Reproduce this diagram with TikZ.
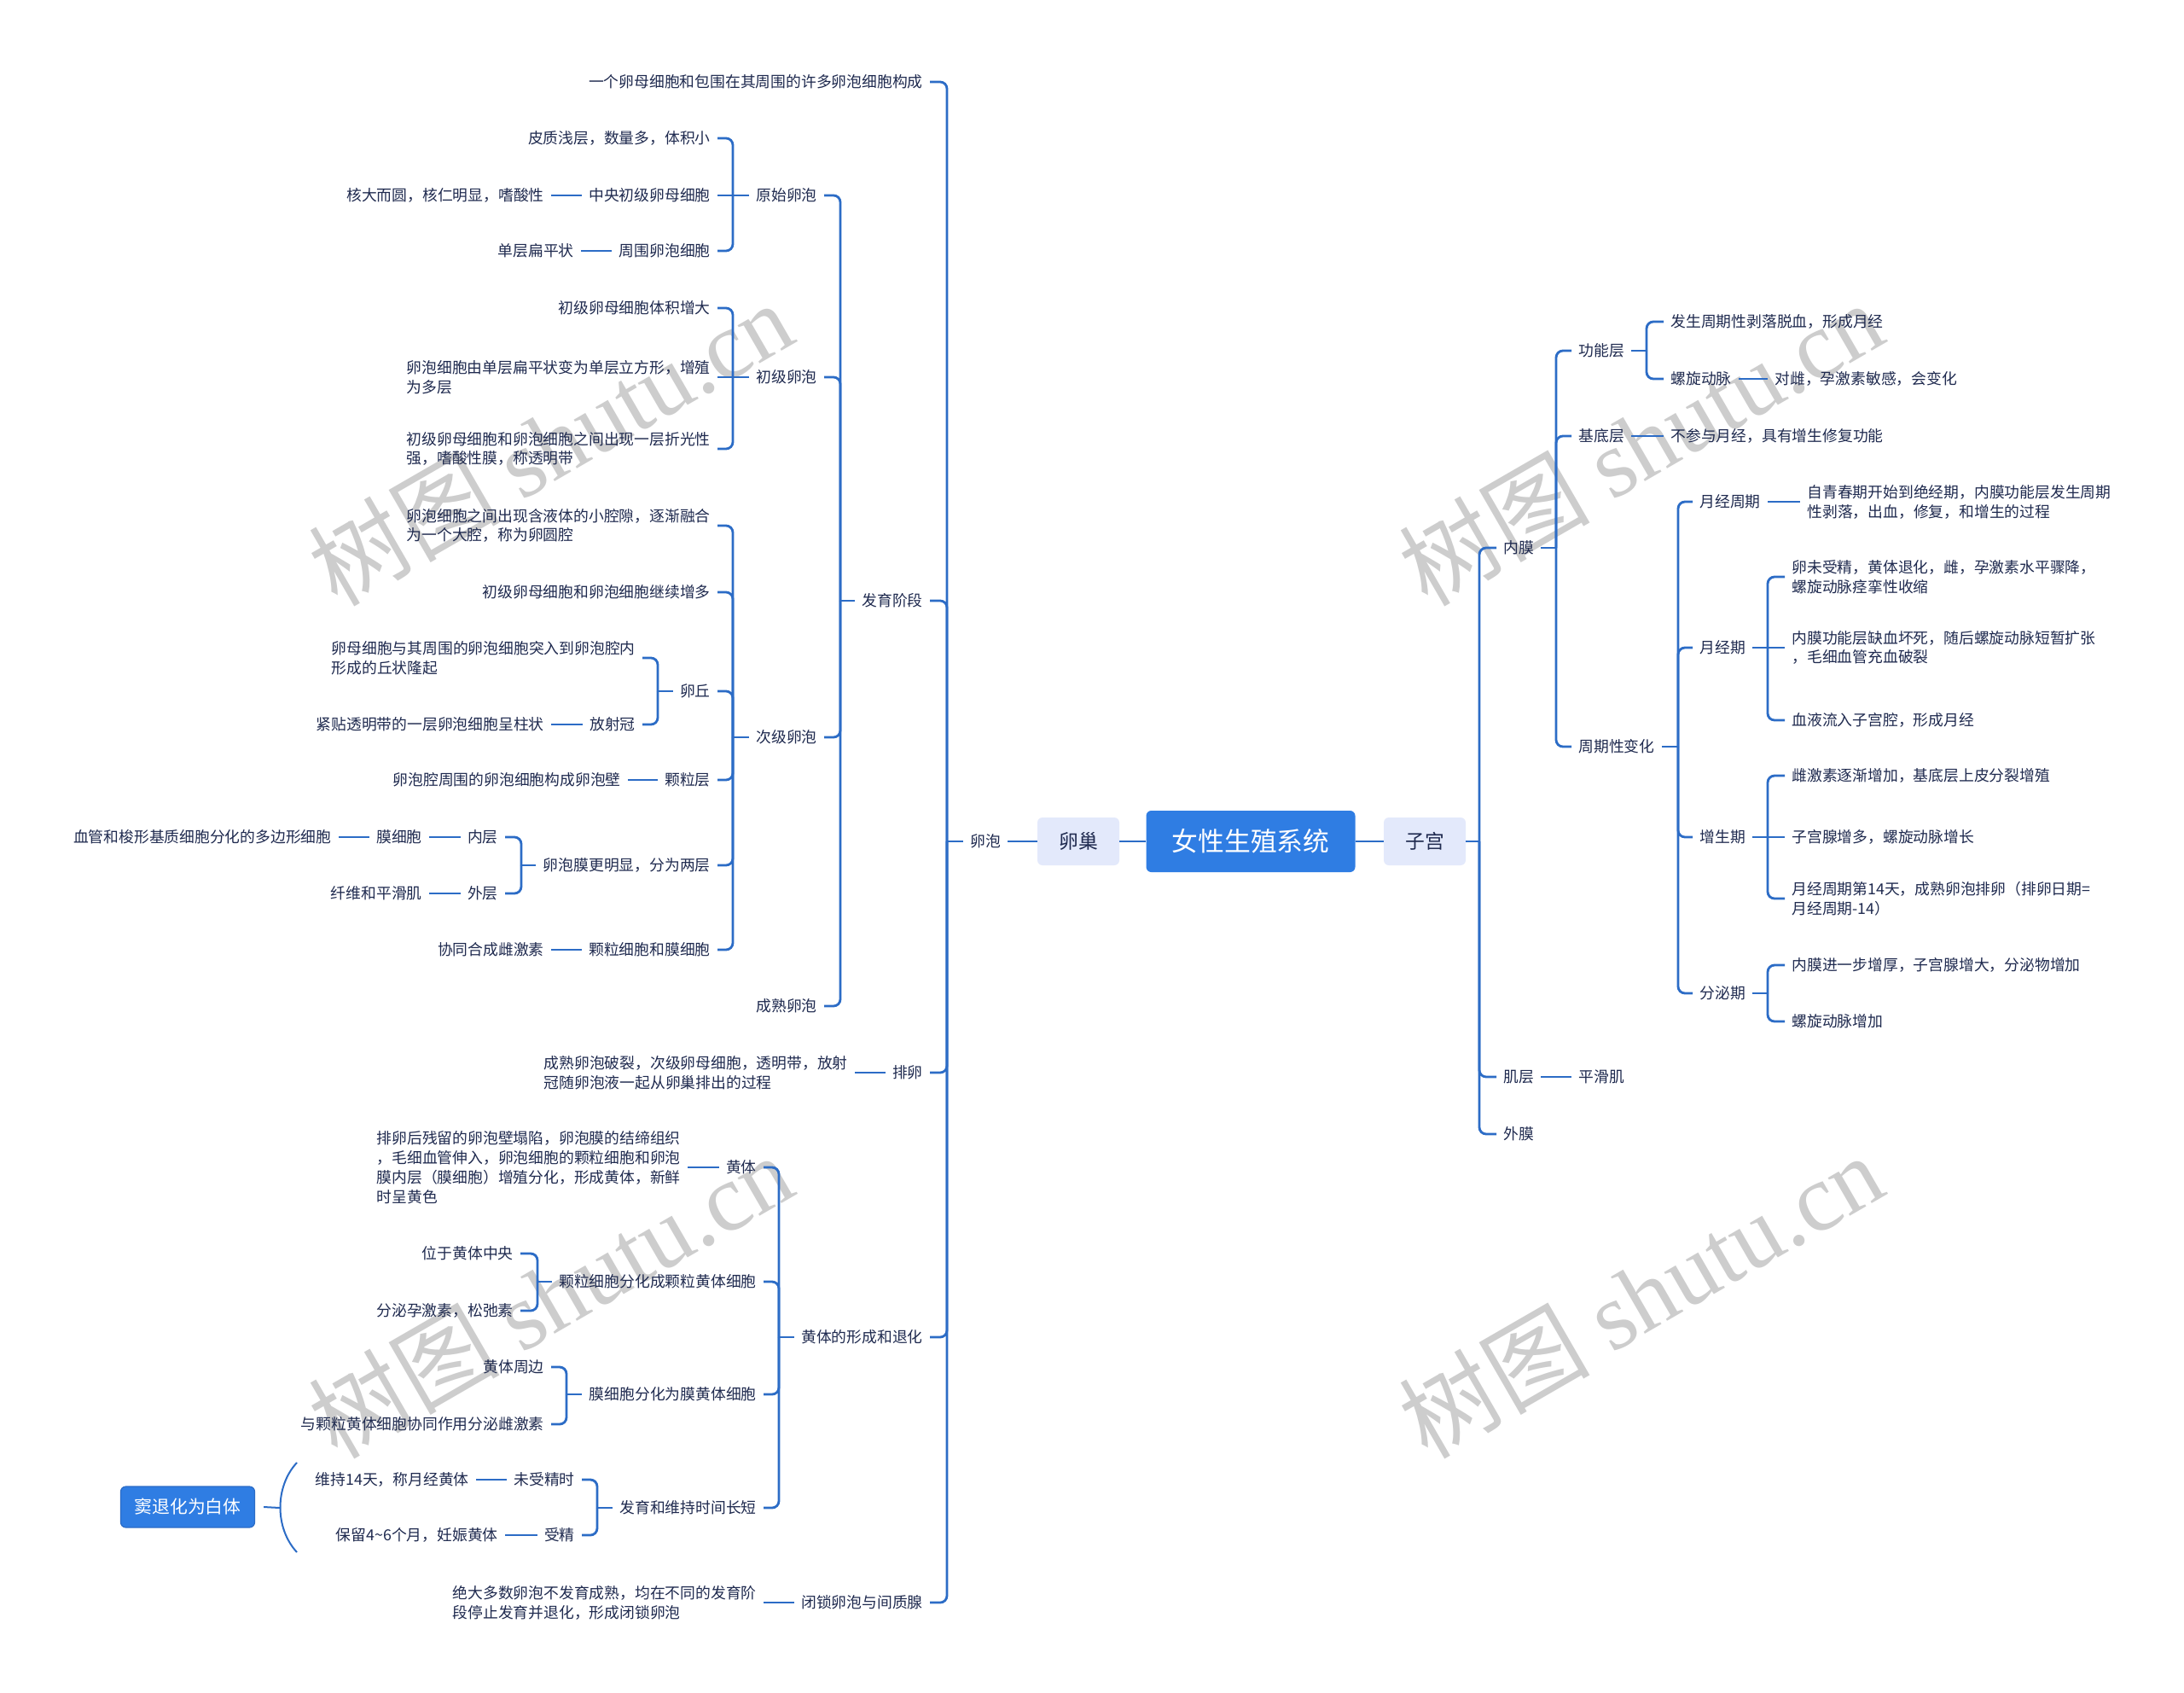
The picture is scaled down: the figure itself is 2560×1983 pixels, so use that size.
\documentclass[tikz,border=0pt]{standalone}
\usepackage{fontspec}
\setmainfont{Noto Sans CJK SC}
\newfontfamily\wmfont{Liberation Serif}
\definecolor{txt}{HTML}{1F2A4F}
\definecolor{lc}{HTML}{2C6CC6}
\definecolor{rootc}{HTML}{2F7DE3}
\definecolor{subc}{HTML}{E3E9FB}
\definecolor{wmc}{HTML}{CDCDCD}
\newcommand\brL[3]{%
  \draw[conn] (#1.west) -- (#2,0 |- #1.west);
  \foreach \nn in {#3}{\draw[conn] (#2,0 |- #1.west) -- (#2,0 |- \nn.east) -- (\nn.east);}%
}
\newcommand\brR[3]{%
  \draw[conn] (#1.east) -- (#2,0 |- #1.east);
  \foreach \nn in {#3}{\draw[conn] (#2,0 |- #1.east) -- (#2,0 |- \nn.west) -- (\nn.west);}%
}
\begin{document}
\begin{tikzpicture}[x=0.5pt,y=-0.5pt,
  t/.style={font=\fontsize{8.9}{11.4}\selectfont, text=txt, inner xsep=4pt, inner ysep=1pt, align=left},
  L/.style={t,anchor=east}, R/.style={t,anchor=west},
  conn/.style={draw=lc, line width=1.4pt, rounded corners=4pt},
  root/.style={fill=rootc, text=white, rounded corners=3pt, minimum width=122.5pt, minimum height=36pt, font=\fontsize{15.4}{18}\selectfont, inner sep=0pt},
  sub/.style={fill=subc, text=txt, rounded corners=3pt, minimum width=48pt, minimum height=28pt, font=\fontsize{11.4}{13}\selectfont, inner sep=0pt},
  sumbox/.style={fill=rootc, draw=lc, line width=0.6pt, text=white, rounded corners=3pt, minimum width=78.5pt, minimum height=24pt, font=\fontsize{10.4}{12}\selectfont, inner sep=0pt},
  wm/.style={text=wmc, font=\fontsize{56}{60}\selectfont, rotate=30, inner sep=0pt},
]
\useasboundingbox (0,0) rectangle (2560,1983);
\fill[white] (0,0) rectangle (2560,1983);

% watermarks
\node[wm] (wm1) at (645,519) {树图 {\wmfont shutu.cn}};
\node[wm] (wm2) at (1923,519) {树图 {\wmfont shutu.cn}};
\node[wm] (wm3) at (645,1518) {树图 {\wmfont shutu.cn}};
\node[wm] (wm4) at (1923,1518) {树图 {\wmfont shutu.cn}};

% center
\node[root] (root) at (1466,986) {女性生殖系统};
\node[sub] (ovary) at (1264,986) {卵巢};
\node[sub] (uterus) at (1670,986) {子宫};
\node[t] (fol) at (1155,986) {卵泡};

% left level 1
\node[L] (a1) at (1090,96) {一个卵母细胞和包围在其周围的许多卵泡细胞构成};
\node[L] (a2) at (1090,704) {发育阶段};
\node[L] (a3) at (1090,1257) {排卵};
\node[L] (a4) at (1090,1567) {黄体的形成和退化};
\node[L] (a5) at (1090,1878) {闭锁卵泡与间质腺};

% 发育阶段
\node[L] (b1) at (966,229) {原始卵泡};
\node[L] (b2) at (966,442) {初级卵泡};
\node[L] (b3) at (966,864) {次级卵泡};
\node[L] (b4) at (966,1179) {成熟卵泡};

\node[L] (c1) at (841,162) {皮质浅层，数量多，体积小};
\node[L] (c2) at (841,229) {中央初级卵母细胞};
\node[L] (c2x) at (646,229) {核大而圆，核仁明显，嗜酸性};
\node[L] (c3) at (841,294) {周围卵泡细胞};
\node[L] (c3x) at (681,294) {单层扁平状};

\node[L] (d1) at (841,361) {初级卵母细胞体积增大};
\node[L] (d2) at (841,442) {卵泡细胞由单层扁平状变为单层立方形，增殖\\为多层};
\node[L] (d3) at (841,526) {初级卵母细胞和卵泡细胞之间出现一层折光性\\强，嗜酸性膜，称透明带};

\node[L] (e1) at (841,616) {卵泡细胞之间出现含液体的小腔隙，逐渐融合\\为一个大腔，称为卵圆腔};
\node[L] (e2) at (841,694) {初级卵母细胞和卵泡细胞继续增多};
\node[L] (e3) at (841,810) {卵丘};
\node[L] (e4) at (841,914) {颗粒层};
\node[L] (e4x) at (736,914) {卵泡腔周围的卵泡细胞构成卵泡壁};
\node[L] (e5) at (841,1014) {卵泡膜更明显，分为两层};
\node[L] (e6) at (841,1113) {颗粒细胞和膜细胞};
\node[L] (e6x) at (646,1113) {协同合成雌激素};

\node[L] (f1) at (753,771) {卵母细胞与其周围的卵泡细胞突入到卵泡腔内\\形成的丘状隆起};
\node[L] (f2) at (753,849) {放射冠};
\node[L] (f2x) at (646,849) {紧贴透明带的一层卵泡细胞呈柱状};

\node[L] (g1) at (592,981) {内层};
\node[L] (g1x) at (503,981) {膜细胞};
\node[L] (g1y) at (397,981) {血管和梭形基质细胞分化的多边形细胞};
\node[L] (g2) at (592,1047) {外层};
\node[L] (g2x) at (503,1047) {纤维和平滑肌};

% 排卵
\node[L] (a3x) at (1002,1257) {成熟卵泡破裂，次级卵母细胞，透明带，放射\\冠随卵泡液一起从卵巢排出的过程};

% 黄体
\node[L] (h1) at (895,1368) {黄体};
\node[L] (h1x) at (806,1368) {排卵后残留的卵泡壁塌陷，卵泡膜的结缔组织\\，毛细血管伸入，卵泡细胞的颗粒细胞和卵泡\\膜内层（膜细胞）增殖分化，形成黄体，新鲜\\时呈黄色};
\node[L] (h2) at (895,1502) {颗粒细胞分化成颗粒黄体细胞};
\node[L] (h2a) at (610,1469) {位于黄体中央};
\node[L] (h2b) at (610,1536) {分泌孕激素，松弛素};
\node[L] (h3) at (895,1634) {膜细胞分化为膜黄体细胞};
\node[L] (h3a) at (646,1602) {黄体周边};
\node[L] (h3b) at (646,1669) {与颗粒黄体细胞协同作用分泌雌激素};
\node[L] (h4) at (895,1767) {发育和维持时间长短};
\node[L] (h4a) at (682,1734) {未受精时};
\node[L] (h4ax) at (558,1734) {维持14天，称月经黄体};
\node[L] (h4b) at (682,1799) {受精};
\node[L] (h4bx) at (592,1799) {保留4\textasciitilde6个月，妊娠黄体};
\node[sumbox] (sumb) at (220,1766) {窦退化为白体};
\coordinate (sumtip) at (328,1767);

% 闭锁
\node[L] (a5x) at (895,1878) {绝大多数卵泡不发育成熟，均在不同的发育阶\\段停止发育并退化，形成闭锁卵泡};

% right side
\node[R] (r1) at (1754,642) {内膜};
\node[R] (r2) at (1754,1262) {肌层};
\node[R] (r2x) at (1842,1262) {平滑肌};
\node[R] (r3) at (1754,1329) {外膜};

\node[R] (s1) at (1842,411) {功能层};
\node[R] (s2) at (1842,511) {基底层};
\node[R] (s2x) at (1950,511) {不参与月经，具有增生修复功能};
\node[R] (s3) at (1842,875) {周期性变化};

\node[R] (u1) at (1950,377) {发生周期性剥落脱血，形成月经};
\node[R] (u2) at (1950,444) {螺旋动脉};
\node[R] (u2x) at (2072,444) {对雌，孕激素敏感，会变化};

\node[R] (v1) at (1984,588) {月经周期};
\node[R] (v1x) at (2110,588) {自青春期开始到绝经期，内膜功能层发生周期\\性剥落，出血，修复，和增生的过程};
\node[R] (v2) at (1984,759) {月经期};
\node[R] (w1) at (2092,676) {卵未受精，黄体退化，雌，孕激素水平骤降，\\螺旋动脉痉挛性收缩};
\node[R] (w2) at (2092,759) {内膜功能层缺血坏死，随后螺旋动脉短暂扩张\\，毛细血管充血破裂};
\node[R] (w3) at (2092,844) {血液流入子宫腔，形成月经};
\node[R] (v3) at (1984,981) {增生期};
\node[R] (x1) at (2092,909) {雌激素逐渐增加，基底层上皮分裂增殖};
\node[R] (x2) at (2092,981) {子宫腺增多，螺旋动脉增长};
\node[R] (x3) at (2092,1053) {月经周期第14天，成熟卵泡排卵（排卵日期=\\月经周期-14）};
\node[R] (v4) at (1984,1164) {分泌期};
\node[R] (y1) at (2092,1131) {内膜进一步增厚，子宫腺增大，分泌物增加};
\node[R] (y2) at (2092,1197) {螺旋动脉增加};

% connectors center
\draw[conn] (ovary.east) -- (root.west);
\draw[conn] (root.east) -- (uterus.west);
\draw[conn] (fol.east) -- (ovary.west);

% left connectors
\brL{fol}{1110}{a1,a2,a3,a4,a5}
\brL{a2}{985}{b1,b2,b3,b4}
\brL{b1}{859}{c1,c3}
\draw[conn] (b1.west) -- (c2.east);
\draw[conn] (c2.west) -- (c2x.east);
\draw[conn] (c3.west) -- (c3x.east);
\brL{b2}{859}{d1,d3}
\draw[conn] (b2.west) -- (d2.east);
\brL{b3}{859}{e1,e2,e3,e4,e5,e6}
\brL{e3}{771}{f1,f2}
\draw[conn] (f2.west) -- (f2x.east);
\draw[conn] (e4.west) -- (e4x.east);
\brL{e5}{611}{g1,g2}
\draw[conn] (g1.west) -- (g1x.east);
\draw[conn] (g1x.west) -- (g1y.east);
\draw[conn] (g2.west) -- (g2x.east);
\draw[conn] (e6.west) -- (e6x.east);
\draw[conn] (a3.west) -- (a3x.east);
\brL{a4}{913}{h1,h2,h3,h4}
\draw[conn] (h1.west) -- (h1x.east);
\brL{h2}{630}{h2a,h2b}
\brL{h3}{664}{h3a,h3b}
\brL{h4}{700}{h4a,h4b}
\draw[conn] (h4a.west) -- (h4ax.east);
\draw[conn] (h4b.west) -- (h4bx.east);
\draw[conn] (a5.west) -- (a5x.east);
\draw[draw=lc, line width=1pt] (348,1714) .. controls (322,1742) and (322,1791) .. (348,1819);
\draw[draw=lc, line width=1pt] (sumtip) -- ([xshift=5pt]sumb.east);

% right connectors
\brR{uterus}{1734}{r1,r2,r3}
\draw[conn] (r2.east) -- (r2x.west);
\brR{r1}{1824}{s1,s2,s3}
\draw[conn] (s2.east) -- (s2x.west);
\brR{s1}{1930}{u1,u2}
\draw[conn] (u2.east) -- (u2x.west);
\brR{s3}{1967}{v1,v2,v3,v4}
\draw[conn] (v1.east) -- (v1x.west);
\brR{v2}{2072}{w1,w3}
\draw[conn] (v2.east) -- (w2.west);
\brR{v3}{2072}{x1,x3}
\draw[conn] (v3.east) -- (x2.west);
\brR{v4}{2072}{y1,y2}
\end{tikzpicture}
\end{document}
